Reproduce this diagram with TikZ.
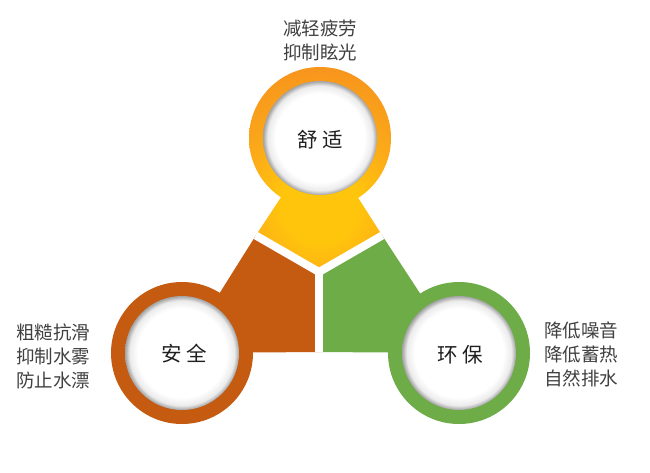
\documentclass[tikz,border=0pt]{standalone}
\usepackage{fontspec}
\newfontfamily\cjk{Noto Sans CJK SC}
\usetikzlibrary{positioning}

\definecolor{ylw}{HTML}{FFC40C}
\definecolor{midorg}{HTML}{FBA919}
\definecolor{orng}{HTML}{F7941D}
\definecolor{rust}{HTML}{C55A11}
\definecolor{leaf}{HTML}{6DAC46}
\definecolor{glowgray}{HTML}{A2A2A2}
\definecolor{softgray}{HTML}{EBEBEB}
\definecolor{txtgray}{HTML}{404040}
\definecolor{keygray}{HTML}{1E1E1E}

\pgfdeclareradialshading{warmglow}{\pgfpointorigin}{color(0bp)=(ylw); color(7bp)=(ylw); color(15bp)=(midorg); color(25bp)=(orng); color(50bp)=(orng)}
\pgfdeclareradialshading{innerglow}{\pgfpointorigin}{color(0bp)=(white); color(19.5bp)=(white); color(23bp)=(softgray); color(25bp)=(glowgray); color(50bp)=(glowgray)}

\tikzset{
  sidetext/.style={font=\cjk\fontsize{18.5}{24}\selectfont, text=txtgray, align=left, inner sep=0pt},
  keytext/.style={font=\cjk\fontsize{20.5}{22}\selectfont, text=keygray, inner sep=0pt},
  gapline/.style={white, line width=8pt},
  hole/.style={shading=innerglow}
}

\begin{document}
\begin{tikzpicture}[x=1pt, y=-1pt]
    \useasboundingbox (0,0) rectangle (650,472);

    % --- Key points ---
    \coordinate (C) at (319,272);
    \coordinate (T) at (320,138);
    \coordinate (L) at (182,353);
    \coordinate (R) at (459,353);
    \coordinate (G1) at (255.8,235.5);
    \coordinate (G2) at (382.2,235.5);
    \coordinate (G3) at (319,352);

    % --- Brown & green wedges ---
    \fill[rust] (C) -- (G1) -- (L) -- (G3) -- cycle;
    \fill[leaf] (C) -- (G2) -- (R) -- (G3) -- cycle;

    % --- Orange wedge (shaded) ---
    \begin{scope}
      \clip (C) -- (G1) -- (T) -- (G2) -- cycle;
      \shade[shading=warmglow] (320,205) circle (140);
    \end{scope}

    % --- White gaps ---
    \draw[gapline] (C) -- (G1);
    \draw[gapline] (C) -- (G2);
    \draw[gapline] (C) -- (G3);

    % --- Rings ---
    \begin{scope}
      \clip (T) circle (71);
      \shade[shading=warmglow] (320,205) circle (140);
    \end{scope}
    \fill[rust] (L) circle (71);
    \fill[leaf] (R) circle (71);

    % --- Inner circles ---
    \shade[hole] (T) circle (57);
    \shade[hole] (L) circle (57);
    \shade[hole] (R) circle (57);

    % --- Circle labels ---
    \node[keytext] (comfort) at (320.5,140) {舒\hspace{0.2em}适};
    \node[keytext] (safety) at (184.5,354) {安\hspace{0.2em}全};
    \node[keytext] (eco) at (460,355) {环\hspace{0.2em}保};

    % --- Side texts ---
    \node[sidetext, align=center] (comforttxt) at (320,40) {减轻疲劳\\抑制眩光};
    \node[sidetext, anchor=west] (safetytxt) at (16,356) {粗糙抗滑\\抑制水雾\\防止水漂};
    \node[sidetext, anchor=west] (ecotxt) at (544,354) {降低噪音\\降低蓄热\\自然排水};

\end{tikzpicture}
\end{document}
